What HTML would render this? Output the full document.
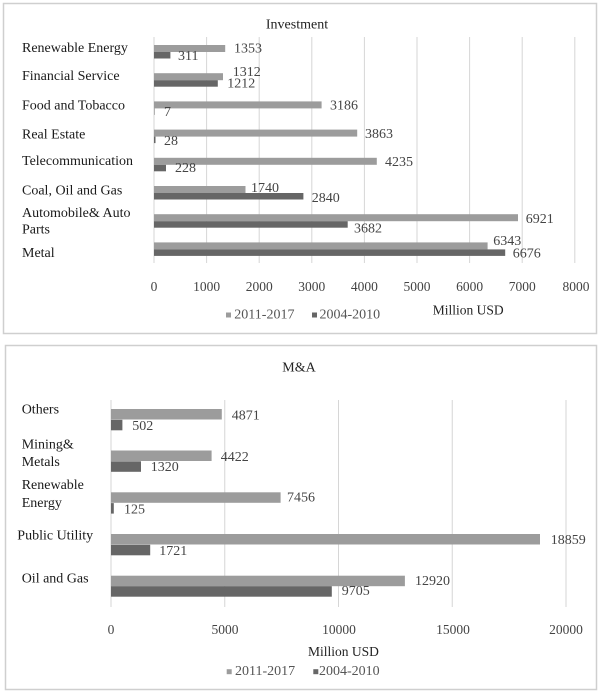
<!DOCTYPE html>
<html><head><meta charset="utf-8"><style>
html,body{margin:0;padding:0;background:#fff;}
svg{display:block;}
text{font-family:"Liberation Serif",serif;}
</style></head><body>
<svg width="602" height="694" viewBox="0 0 602 694" xmlns="http://www.w3.org/2000/svg">
<rect x="0" y="0" width="602" height="694" fill="#fff"/>
<!-- Panels -->
<rect x="3.5" y="3.5" width="593" height="330" fill="#fff" stroke="#cfcfcf" stroke-width="1.5"/>
<rect x="5.5" y="345.5" width="591" height="344" fill="#fff" stroke="#cfcfcf" stroke-width="1.5"/>

<!-- TOP CHART -->
<g stroke="#d6d6d6" stroke-width="1">
<line x1="154" y1="37" x2="154" y2="263"/>
<line x1="206.6" y1="37" x2="206.6" y2="263"/>
<line x1="259.2" y1="37" x2="259.2" y2="263"/>
<line x1="311.8" y1="37" x2="311.8" y2="263"/>
<line x1="364.4" y1="37" x2="364.4" y2="263"/>
<line x1="417" y1="37" x2="417" y2="263"/>
<line x1="469.6" y1="37" x2="469.6" y2="263"/>
<line x1="522.2" y1="37" x2="522.2" y2="263"/>
<line x1="574.8" y1="37" x2="574.8" y2="263"/>
</g>
<g fill="#9c9c9c">
<rect x="154" y="45" width="71.2" height="7"/>
<rect x="154" y="73.2" width="69" height="7"/>
<rect x="154" y="101.4" width="167.6" height="7"/>
<rect x="154" y="129.6" width="203.2" height="7"/>
<rect x="154" y="157.8" width="222.8" height="7"/>
<rect x="154" y="186" width="91.5" height="7"/>
<rect x="154" y="214.2" width="364" height="7"/>
<rect x="154" y="242.4" width="333.6" height="7"/>
</g>
<g fill="#666">
<rect x="154" y="52" width="16.4" height="6.5"/>
<rect x="154" y="80.2" width="63.8" height="6.5"/>
<rect x="154" y="108.4" width="0.5" height="6.5"/>
<rect x="154" y="136.6" width="1.5" height="6.5"/>
<rect x="154" y="164.8" width="12" height="6.5"/>
<rect x="154" y="193" width="149.4" height="6.5"/>
<rect x="154" y="221.2" width="193.7" height="6.5"/>
<rect x="154" y="249.4" width="351.2" height="6.5"/>
</g>
<text x="297" y="25" font-size="14" fill="#222" text-anchor="middle" dominant-baseline="central">Investment</text>
<g font-size="14" fill="#1a1a1a" dominant-baseline="central">
<text x="22" y="48.3">Renewable Energy</text>
<text x="22" y="76.7">Financial Service</text>
<text x="22" y="106">Food and Tobacco</text>
<text x="22" y="135">Real Estate</text>
<text x="22" y="161.7">Telecommunication</text>
<text x="22" y="191">Coal, Oil and Gas</text>
<text x="22" y="213.3">Automobile&amp; Auto</text>
<text x="22" y="230">Parts</text>
<text x="22" y="253.3">Metal</text>
</g>
<g font-size="14" fill="#444" dominant-baseline="central">
<text x="234" y="49">1353</text>
<text x="178" y="56.7">311</text>
<text x="232.7" y="72.3">1312</text>
<text x="227.3" y="84">1212</text>
<text x="330" y="106">3186</text>
<text x="164" y="112.3">7</text>
<text x="365" y="134.7">3863</text>
<text x="164" y="141.7">28</text>
<text x="385" y="162.3">4235</text>
<text x="175" y="168.5">228</text>
<text x="251" y="188.3">1740</text>
<text x="311.7" y="198.3">2840</text>
<text x="525.7" y="219.3">6921</text>
<text x="354" y="229">3682</text>
<text x="493.3" y="241.7">6343</text>
<text x="512.7" y="254">6676</text>
</g>
<g font-size="13.5" fill="#444" text-anchor="middle" dominant-baseline="central">
<text x="154" y="286.7">0</text>
<text x="206.6" y="286.7">1000</text>
<text x="259.2" y="286.7">2000</text>
<text x="311.8" y="286.7">3000</text>
<text x="364.4" y="286.7">4000</text>
<text x="417" y="286.7">5000</text>
<text x="469.6" y="286.7">6000</text>
<text x="522.2" y="286.7">7000</text>
<text x="576" y="286.7">8000</text>
</g>
<text x="432.7" y="310" font-size="13.5" fill="#222" dominant-baseline="central">Million USD</text>
<rect x="226" y="312.5" width="5" height="5" fill="#9c9c9c"/>
<text x="234.3" y="315" font-size="14" fill="#555" dominant-baseline="central">2011-2017</text>
<rect x="312" y="312.5" width="5" height="5" fill="#666"/>
<text x="319.5" y="315" font-size="14" fill="#555" dominant-baseline="central">2004-2010</text>

<!-- BOTTOM CHART -->
<g stroke="#d6d6d6" stroke-width="1">
<line x1="111" y1="400" x2="111" y2="607"/>
<line x1="224.75" y1="400" x2="224.75" y2="607"/>
<line x1="338.5" y1="400" x2="338.5" y2="607"/>
<line x1="452.25" y1="400" x2="452.25" y2="607"/>
<line x1="566" y1="400" x2="566" y2="607"/>
</g>
<g fill="#9c9c9c">
<rect x="111" y="409" width="110.8" height="10.5"/>
<rect x="111" y="450.5" width="100.6" height="10.5"/>
<rect x="111" y="492.3" width="169.6" height="10.5"/>
<rect x="111" y="534" width="429" height="10.5"/>
<rect x="111" y="575.7" width="293.9" height="10.5"/>
</g>
<g fill="#666">
<rect x="111" y="419.8" width="11.4" height="10.5"/>
<rect x="111" y="461.3" width="30" height="10.5"/>
<rect x="111" y="503.1" width="2.8" height="10.5"/>
<rect x="111" y="544.8" width="39.2" height="10.5"/>
<rect x="111" y="586.2" width="220.8" height="10.5"/>
</g>
<text x="299" y="368" font-size="14" fill="#222" text-anchor="middle" dominant-baseline="central">M&amp;A</text>
<g font-size="14" fill="#1a1a1a" dominant-baseline="central">
<text x="21.7" y="410">Others</text>
<text x="21.7" y="445">Mining&amp;</text>
<text x="21.7" y="462.3">Metals</text>
<text x="21.7" y="485.7">Renewable</text>
<text x="21.7" y="503.3">Energy</text>
<text x="17.3" y="536">Public Utility</text>
<text x="21.7" y="579">Oil and Gas</text>
</g>
<g font-size="14" fill="#444" dominant-baseline="central">
<text x="231.7" y="416">4871</text>
<text x="132.3" y="426.7">502</text>
<text x="220.7" y="457.3">4422</text>
<text x="150.7" y="467.7">1320</text>
<text x="287" y="498">7456</text>
<text x="124" y="510">125</text>
<text x="550.7" y="540.7">18859</text>
<text x="159.3" y="551.7">1721</text>
<text x="415" y="581.7">12920</text>
<text x="341.7" y="591.7">9705</text>
</g>
<g font-size="13.5" fill="#444" text-anchor="middle" dominant-baseline="central">
<text x="111" y="629.3">0</text>
<text x="225" y="629.3">5000</text>
<text x="339" y="629.3">10000</text>
<text x="453" y="629.3">15000</text>
<text x="566" y="629.3">20000</text>
</g>
<text x="308" y="651.7" font-size="13.5" fill="#222" dominant-baseline="central">Million USD</text>
<rect x="226.7" y="669.2" width="5" height="5" fill="#9c9c9c"/>
<text x="235" y="671.7" font-size="14" fill="#555" dominant-baseline="central">2011-2017</text>
<rect x="313.3" y="669.2" width="5" height="5" fill="#666"/>
<text x="319" y="671.7" font-size="14" fill="#555" dominant-baseline="central">2004-2010</text>
</svg>
</body></html>
